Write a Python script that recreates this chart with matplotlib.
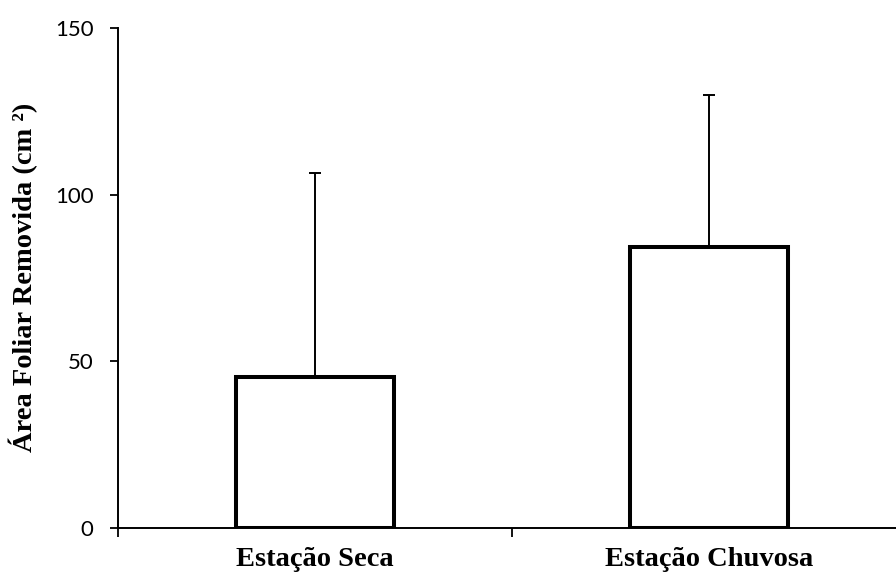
import numpy as np
import matplotlib
matplotlib.use('Agg')
import matplotlib.pyplot as plt

# data
estacoes = ['Estação Seca', 'Estação Chuvosa']
area_media = [45.2, 84.2]
erro_sup = [61.3, 45.6]
yticks = [0, 50, 100, 150]

fig = plt.figure(figsize=(8.96, 5.72), dpi=100)
ax = fig.add_axes([118 / 896, 44 / 572, 788 / 896, 500 / 572])

x = np.arange(len(estacoes))
ax.bar(x, area_media, width=0.40, color='white', edgecolor='black', linewidth=2.9, zorder=3)
ax.errorbar(x, area_media, yerr=[np.zeros(len(x)), erro_sup], fmt='none',
            ecolor='black', elinewidth=1.4, capsize=4.3, capthick=1.4, zorder=2)

ax.set_xlim(-0.5, 1.5)
ax.set_ylim(0, 150)
ax.set_yticks(yticks)
ax.set_yticklabels([str(t) for t in yticks], fontfamily='Lato', fontsize=16)
ax.tick_params(axis='y', direction='out', length=5.5, width=1.3, pad=12)

ax.set_xticks(x)
ax.set_xticklabels(estacoes, fontfamily='Liberation Serif', fontweight='bold', fontsize=20.5)
ax.tick_params(axis='x', which='major', length=0, pad=14)
ax.set_xticks([-0.5, 0.5, 1.5], minor=True)
ax.tick_params(axis='x', which='minor', direction='out', length=6.5, width=1.3)

for s in ['top', 'right']:
    ax.spines[s].set_visible(False)
for s in ['left', 'bottom']:
    ax.spines[s].set_linewidth(1.4)

fig.text(23 / 896, 1 - 277.5 / 572, 'Área Foliar Removida (cm ²)', rotation=90,
         ha='center', va='center', fontfamily='Liberation Serif', fontweight='bold', fontsize=20.5)

fig.savefig('out.png', dpi=100)
